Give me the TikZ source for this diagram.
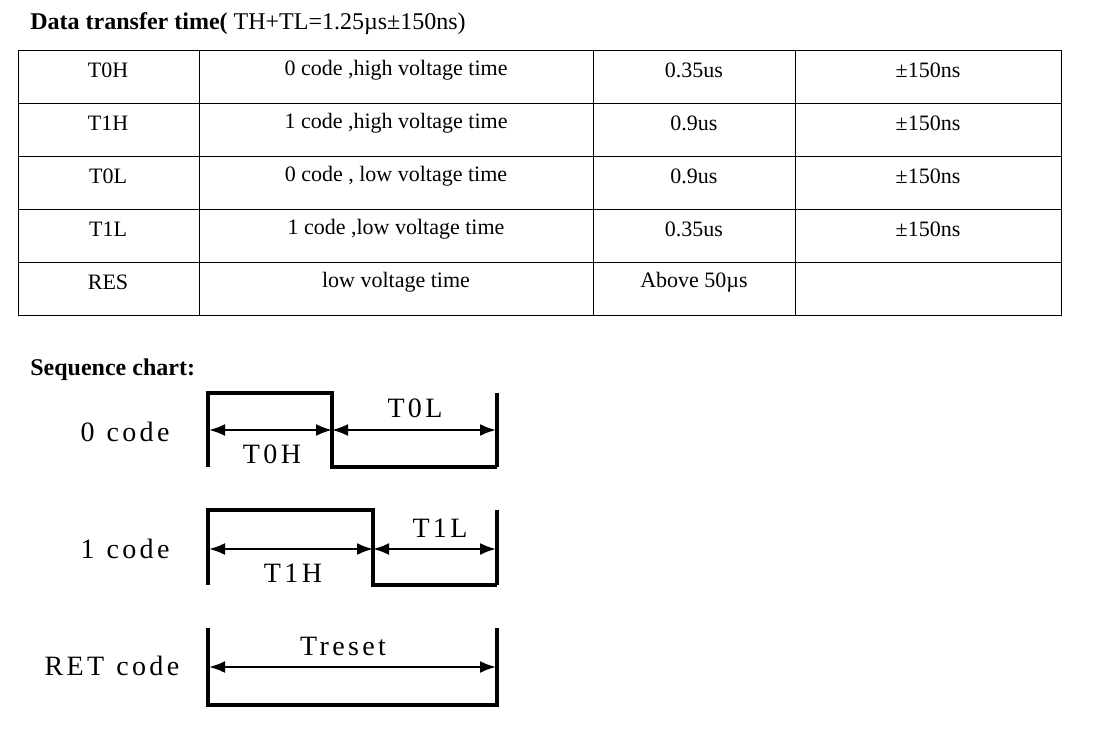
\documentclass[tikz,border=0pt]{standalone}
\usepackage{fontspec}
\setmainfont{Liberation Serif}
\usetikzlibrary{arrows.meta, positioning}

\begin{document}
\begin{tikzpicture}[>={Latex[length=8pt,width=6pt]}, x=0.5pt, y=-0.5pt]
          \tikzstyle{cell}=[font=\fontsize{11}{13}\selectfont]
          \tikzstyle{wave}=[line width=1.6pt]
          \tikzstyle{span}=[<->, line width=1.1pt]
          \tikzstyle{lbl}=[font=\fontsize{14}{16}\selectfont\addfontfeature{LetterSpace=12}]
          \useasboundingbox (0,0) rectangle (1101,737);

          % title
          \node[anchor=west, inner sep=0pt] (title) at (30,24) {\fontsize{12}{14}\selectfont\textbf{Data transfer time(} TH+TL=1.25µs±150ns)};

          % table
          \draw[line width=0.4pt] (18,50) rectangle (1061,315);
          \foreach \y in {103,156,209,262} \draw[line width=0.4pt] (18,\y) -- (1061,\y);
          \foreach \x in {199,593,795} \draw[line width=0.4pt] (\x,50) -- (\x,315);

          \foreach \y/\a/\b/\c/\d in {70/T0H/{0 code ,high voltage time}/0.35us/±150ns,
                                      123/T1H/{1 code ,high voltage time}/0.9us/±150ns,
                                      176/T0L/{0 code , low voltage time}/0.9us/±150ns,
                                      229/T1L/{1 code ,low voltage time}/0.35us/±150ns,
                                      282/RES/{low voltage time}/Above 50µs/{}}{
            \node[cell] at (108,\y) {\a};
            \node[cell] at (396,\y) {\b};
            \node[cell] at (694,\y) {\c};
            \node[cell] at (928,\y) {\d};
          }

          % sequence chart
          \node[anchor=west, inner sep=0pt] (seq) at (30,370) {\fontsize{12}{14}\selectfont\textbf{Sequence chart:}};

          % 0 code
          \node[lbl] (code0) at (125,432) {0\hspace{6pt}code};
          \coordinate (A0) at (209,430);
          \coordinate (B0) at (332,430);
          \coordinate (C0) at (496,430);
          \draw[wave] (208,467) -- (208,393) -- (332,393) -- (332,467) -- (497,467);
          \draw[wave] (497,393) -- (497,467);
          \path (A0) edge[span] (B0);
          \path (B0) edge[span] (C0);
          \node[lbl] (t0h) at (272,454) {T0H};
          \node[lbl] (t0l) at (415,408) {T0L};

          % 1 code
          \node[lbl] (code1) at (125,549) {1\hspace{6pt}code};
          \coordinate (A1) at (209,549);
          \coordinate (B1) at (373,549);
          \coordinate (C1) at (496,549);
          \draw[wave] (208,585) -- (208,510) -- (373,510) -- (373,585) -- (497,585);
          \draw[wave] (497,510) -- (497,585);
          \path (A1) edge[span] (B1);
          \path (B1) edge[span] (C1);
          \node[lbl] (t1h) at (293,573) {T1H};
          \node[lbl] (t1l) at (440,528) {T1L};

          % RET code
          \node[lbl] (ret) at (112,666) {RET\hspace{6pt}code};
          \coordinate (A2) at (209,667);
          \coordinate (C2) at (496,667);
          \draw[wave] (208,628) -- (208,705) -- (497,705) -- (497,628);
          \path (A2) edge[span] (C2);
          \node[lbl] (treset) at (343,646) {Treset};

        \end{tikzpicture}
\end{document}
